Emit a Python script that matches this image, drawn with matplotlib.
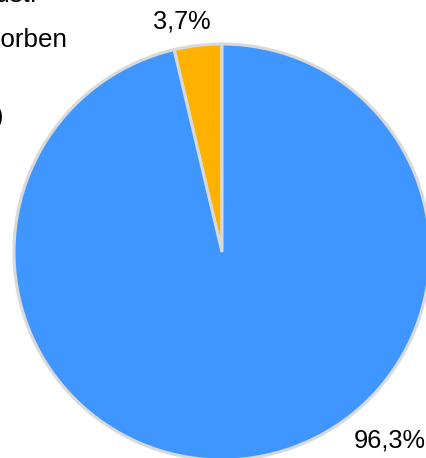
import matplotlib
matplotlib.use("Agg")
import matplotlib.pyplot as plt

plt.rcParams['font.family'] = ['Liberation Sans', 'DejaVu Sans']

labels = ["3,7%", "96,3%"]
values = [3.7, 96.3]
colors = ["#ffb100", "#4096ff"]
legend_fragments = ["Verlust:", "verstorben", "(k.A.)"]

W, H = 427, 458
fig = plt.figure(figsize=(W / 100, H / 100), dpi=100)
ax = fig.add_axes([0, 0, 1, 1])

cx, cy, r = 222, 252, 208
ax.pie(values, colors=colors, startangle=90, counterclock=True, radius=1,
       wedgeprops=dict(edgecolor="#d9d9d9", linewidth=2.2))
ax.set_aspect('auto')
ax.set_xlim(-cx / r, (W - cx) / r)
ax.set_ylim(-(H - cy) / r, cy / r)
ax.axis('off')

# percentage labels (placed outside as in the reference)
ax.text(-0.192, 1.11, labels[0], ha='center', va='center', fontsize=18.3, color='black')
ax.text(0.805, -0.904, labels[1], ha='center', va='center', fontsize=18.3, color='black')

# cropped legend-like text at the top-left
fig.text(38 / W, 1 - 2.5 / H, legend_fragments[0], ha='right', va='baseline', fontsize=18.5)
fig.text(68 / W, 1 - 47 / H, legend_fragments[1], ha='right', va='baseline', fontsize=18.7)
fig.text(3.5 / W, 1 - 124 / H, legend_fragments[2], ha='right', va='baseline', fontsize=18.5)

fig.savefig("out.png", dpi=100)
